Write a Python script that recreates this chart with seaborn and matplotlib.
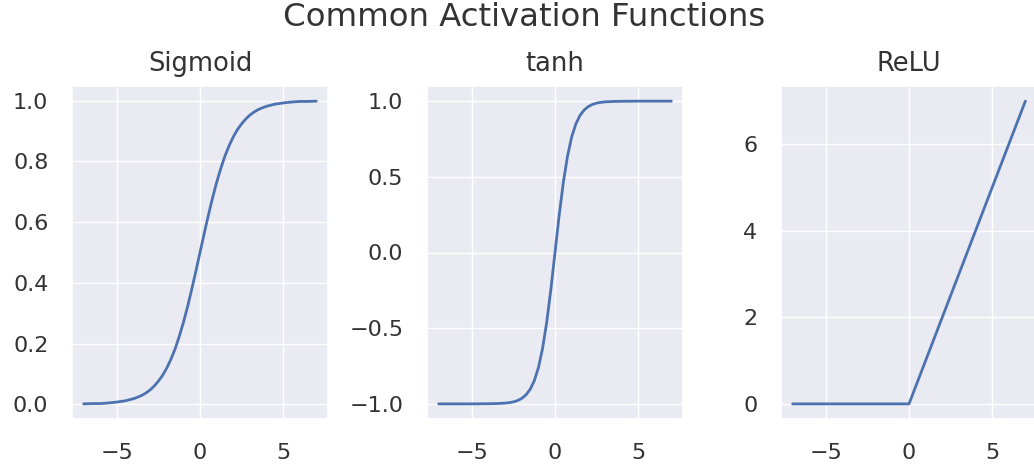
"""
Common activation functions (sigmoid, tanh, ReLU) side by side.
Values read off the reference figure.
"""

import matplotlib
matplotlib.use("Agg")
import matplotlib.pyplot as plt
import pandas as pd
import seaborn as sns

# ── Data ─────────────────────────────────────────────────────────────────────
sigmoid_x = [-7.0, -6.5, -6.0, -5.5, -5.0, -4.5, -4.0, -3.75, -3.5, -3.25,
             -3.0, -2.75, -2.5, -2.25, -2.0, -1.75, -1.5, -1.25, -1.0, -0.75,
             -0.5, -0.25, 0.0, 0.25, 0.5, 0.75, 1.0, 1.25, 1.5, 1.75,
             2.0, 2.25, 2.5, 2.75, 3.0, 3.25, 3.5, 3.75, 4.0, 4.5,
             5.0, 5.5, 6.0, 6.5, 7.0]
sigmoid_y = [0.001, 0.002, 0.002, 0.004, 0.007, 0.011, 0.018, 0.023, 0.029, 0.037,
             0.047, 0.060, 0.076, 0.095, 0.119, 0.148, 0.182, 0.223, 0.269, 0.321,
             0.378, 0.438, 0.500, 0.562, 0.622, 0.679, 0.731, 0.777, 0.818, 0.852,
             0.881, 0.905, 0.924, 0.940, 0.953, 0.963, 0.971, 0.977, 0.982, 0.989,
             0.993, 0.996, 0.998, 0.998, 0.999]

tanh_x = [-7.0, -6.0, -5.0, -4.0, -3.5, -3.0, -2.75, -2.5, -2.25, -2.0,
          -1.75, -1.5, -1.25, -1.0, -0.75, -0.5, -0.25, 0.0, 0.25, 0.5,
          0.75, 1.0, 1.25, 1.5, 1.75, 2.0, 2.25, 2.5, 2.75, 3.0,
          3.5, 4.0, 5.0, 6.0, 7.0]
tanh_y = [-1.000, -1.000, -1.000, -0.999, -0.998, -0.995, -0.992, -0.987, -0.978, -0.964,
          -0.941, -0.905, -0.848, -0.762, -0.635, -0.462, -0.245, 0.000, 0.245, 0.462,
          0.635, 0.762, 0.848, 0.905, 0.941, 0.964, 0.978, 0.987, 0.992, 0.995,
          0.998, 0.999, 1.000, 1.000, 1.000]

relu_x = [-7.0, 0.0, 7.0]
relu_y = [0.0, 0.0, 7.0]

panels = [
    ("Sigmoid", sigmoid_x, sigmoid_y),
    ("tanh", tanh_x, tanh_y),
    ("ReLU", relu_x, relu_y),
]

# ── Plot ──────────────────────────────────────────────────────────────────────
sns.set_theme(style="darkgrid")

W, H = 1034, 470
fig = plt.figure(figsize=(W / 100, H / 100), dpi=100)

lefts = [72, 427, 781]
ax_w, ax_top, ax_bot = 256, 86, 419
text_col = "#333333"

for left, (name, xs, ys) in zip(lefts, panels):
    ax = fig.add_axes([left / W, 1 - ax_bot / H, ax_w / W, (ax_bot - ax_top) / H])
    df = pd.DataFrame({"x": xs, "y": ys})
    sns.lineplot(data=df, x="x", y="y", ax=ax, color="#4c72b0", linewidth=2)
    ax.set_title(name, fontsize=18.5, pad=11, color=text_col)
    ax.set_xlabel("")
    ax.set_ylabel("")
    ax.tick_params(axis="both", labelsize=16, length=0, pad=17, colors=text_col)

fig.suptitle("Common Activation Functions", x=524 / W, y=0.995, fontsize=23.3,
             color=text_col)

fig.savefig("out.png", dpi=100)
print("Saved → out.png")
